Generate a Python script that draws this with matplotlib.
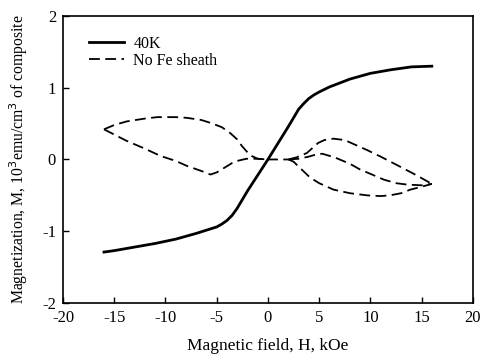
"""
Magnetization loops: 40K vs no Fe sheath.
"""
import matplotlib
matplotlib.use('Agg')
import matplotlib.pyplot as plt

plt.rcParams['font.family'] = ['Liberation Serif', 'DejaVu Serif']
plt.rcParams['axes.unicode_minus'] = False

# 40K curve
h_40k = [-16, -15, -13, -11, -9, -7, -5, -4.5, -4, -3.5, -3, -2, -1, 0, 1, 2, 3, 3.5, 4, 4.5, 5, 6, 8, 10, 12, 14, 16]
m_40k = [-1.29, -1.27, -1.22, -1.17, -1.11, -1.03, -0.94, -0.90, -0.85, -0.78, -0.68, -0.44, -0.22, 0.0,
         0.23, 0.46, 0.70, 0.78, 0.85, 0.90, 0.94, 1.01, 1.12, 1.20, 1.25, 1.29, 1.30]

# No Fe sheath, branches of the loop
h_upper_left = [-16, -15, -13.8, -12, -10.8, -9, -7.9, -6.5, -5.6, -4.5, -3.7, -3, -2.55, -2, -1.6, -1, 0, 1, 2]
m_upper_left = [0.42, 0.48, 0.53, 0.57, 0.59, 0.59, 0.58, 0.55, 0.51, 0.45, 0.37, 0.28, 0.19, 0.10, 0.05, 0.01, 0, 0, 0]

h_lower_right = [2, 2.5, 3, 4.1, 5, 6.4, 8, 9.7, 11, 11.9, 13, 13.9, 15, 16]
m_lower_right = [0, -0.03, -0.10, -0.25, -0.33, -0.42, -0.47, -0.50, -0.51, -0.50, -0.47, -0.42, -0.38, -0.34]

h_lower_left = [-16, -13.8, -12, -10.5, -9, -7.9, -6.5, -5.6, -5, -4.3, -3.5, -3, -2.1, -1, 0]
m_lower_left = [0.42, 0.26, 0.15, 0.05, -0.02, -0.09, -0.16, -0.21, -0.18, -0.12, -0.05, -0.02, 0.01, 0.01, 0]

h_upper_right = [2, 2.8, 3.8, 4.9, 5.5, 6.4, 7.5, 9.7, 11, 12.9, 14.5, 16]
m_upper_right = [0, 0.03, 0.09, 0.23, 0.27, 0.29, 0.27, 0.13, 0.04, -0.10, -0.22, -0.34]

h_middle_right = [2, 3, 4, 4.7, 5.3, 6.5, 8, 9, 10, 11.3, 12.5, 13.6, 15, 16]
m_middle_right = [0, 0.01, 0.04, 0.07, 0.08, 0.03, -0.06, -0.14, -0.20, -0.28, -0.33, -0.35, -0.36, -0.34]

x_ticks = [-20, -15, -10, -5, 0, 5, 10, 15, 20]
y_ticks = [-2, -1, 0, 1, 2]

fig = plt.figure(figsize=(4.81, 3.54), dpi=100)
ax = fig.add_axes([0.131, 0.144, 0.852, 0.811])

dash = (0, (6, 3))
ax.plot(h_40k, m_40k, color='black', lw=2.0, label='40K')
ax.plot(h_upper_left, m_upper_left, color='black', lw=1.3, ls=dash, label='No Fe sheath')
for hh, mm in [(h_lower_right, m_lower_right), (h_lower_left, m_lower_left),
               (h_upper_right, m_upper_right), (h_middle_right, m_middle_right)]:
    ax.plot(hh, mm, color='black', lw=1.3, ls=dash)

ax.set_xlim(-20, 20)
ax.set_ylim(-2, 2)
ax.set_xticks(x_ticks)
ax.set_yticks(y_ticks)
ax.tick_params(direction='in', length=4, width=1, labelsize=12, pad=5)
for s in ax.spines.values():
    s.set_linewidth(1.2)

ax.set_xlabel('Magnetic field, H, kOe', fontsize=12.5, labelpad=9)
ax.set_ylabel('Magnetization, M, 10$^3$emu/cm$^3$ of composite', fontsize=11.3, labelpad=9)

ax.legend(loc='upper left', frameon=False, fontsize=11.5, handlelength=2.2,
          handletextpad=0.6, labelspacing=0.05, borderaxespad=0.3,
          bbox_to_anchor=(0.035, 0.97))

fig.savefig('out.png', dpi=100)
